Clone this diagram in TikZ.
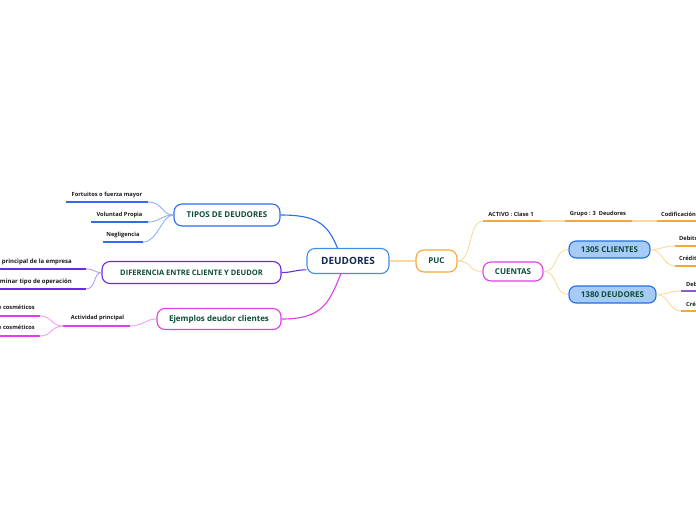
\documentclass[tikz,border=0pt]{standalone}
\usepackage{fontspec}
\setmainfont{Open Sans}
\definecolor{deublue}{HTML}{3D8FE0}
\definecolor{navy}{HTML}{142850}
\definecolor{txtgreen}{HTML}{0E4B3B}
\definecolor{labtxt}{HTML}{1A1A1A}
\definecolor{tblue}{HTML}{2F6BF0}
\definecolor{tlight}{HTML}{8CB0F8}
\definecolor{dpurple}{HTML}{6A2BE8}
\definecolor{plight}{HTML}{B79CF2}
\definecolor{emag}{HTML}{E13DEB}
\definecolor{mlight}{HTML}{F2A0F5}
\definecolor{orng}{HTML}{F7A737}
\definecolor{olight}{HTML}{FDD9A0}
\definecolor{bfill}{HTML}{A6CBF7}
\definecolor{bdraw}{HTML}{1F6FE0}
\definecolor{debpurple}{HTML}{8E5BC8}
\begin{document}
\begin{tikzpicture}[x=1pt,y=-1pt,
  box/.style={draw, rounded corners=8pt, line width=1.1pt, fill=white, inner sep=0pt,
    font=\fontsize{8}{9}\selectfont\bfseries, text=txtgreen},
  acct/.style={box, rounded corners=7pt, fill=bfill, draw=bdraw},
  lab/.style={inner sep=0pt, font=\fontsize{5.7}{6.2}\selectfont\bfseries, text=labtxt},
  uline/.style={line width=1.5pt},
  conn/.style={line width=0.9pt},
  mainconn/.style={line width=1.1pt}]
\useasboundingbox (0,0) rectangle (696,520);
\clip (0,0) rectangle (696,520);

% central node
\node[box, draw=deublue, minimum width=82, minimum height=25,
  font=\fontsize{10}{11}\selectfont\bfseries, text=navy] (deu) at (348,261) {DEUDORES};

% left main branches
\node[box, draw=tblue, minimum width=106, minimum height=22] (tipos) at (227,215) {TIPOS DE DEUDORES};
\node[box, draw=dpurple, minimum width=179, minimum height=22,
  font=\fontsize{7.5}{9}\selectfont\bfseries] (dif) at (191.5,272.5) {DIFERENCIA ENTRE CLIENTE Y DEUDOR};
\node[box, draw=emag, minimum width=124, minimum height=21] (ej) at (219,319) {Ejemplos deudor clientes};

\draw[mainconn, tblue] (deu.129) .. controls +(-10,-25) and +(35,0) .. (tipos.east);
\draw[mainconn, dpurple] (deu.192) .. controls +(-12,0) and +(12,0) .. (dif.east);
\draw[mainconn, emag] (deu.241) .. controls +(-12,30) and +(40,0) .. (ej.east);

% TIPOS children
\node[lab] (f1) at (107,195) {Fortuitos o fuerza mayor};
\node[lab] (f2) at (119.5,215) {Voluntad Propia};
\node[lab] (f3) at (123,235) {Negligencia};
\coordinate (f1a) at (66,202);  \coordinate (f1b) at (148,202);
\coordinate (f2a) at (91,222);  \coordinate (f2b) at (148,222);
\coordinate (f3a) at (103,242); \coordinate (f3b) at (143,242);
\draw[uline, tblue] (f1a) -- (f1b);
\draw[uline, tblue] (f2a) -- (f2b);
\draw[uline, tblue] (f3a) -- (f3b);
\draw[conn, tlight] (f1b) .. controls +(15,0) and +(-12,0) .. (tipos.west);
\draw[conn, tlight] (f2b) .. controls +(12,0) and +(-12,0) .. (tipos.west);
\draw[conn, tlight] (f3b) .. controls +(15,0) and +(-12,0) .. (tipos.west);

% DIFERENCIA children
\node[lab, anchor=east, font=\fontsize{6}{6.5}\selectfont\bfseries] (d1) at (72,262) {Actividad principal de la empresa};
\node[lab, anchor=east, font=\fontsize{6}{6.5}\selectfont\bfseries] (d2) at (72,282) {Determinar tipo de operación};
\coordinate (d1a) at (-5,269); \coordinate (d1b) at (86,269);
\coordinate (d2a) at (-5,289); \coordinate (d2b) at (86,289);
\draw[uline, dpurple] (d1a) -- (d1b);
\draw[uline, dpurple] (d2a) -- (d2b);
\draw[conn, plight] (d1b) .. controls +(10,0) and +(-8,0) .. (dif.west);
\draw[conn, plight] (d2b) .. controls +(10,0) and +(-8,0) .. (dif.west);

% Ejemplos children
\node[lab] (ap) at (97.5,318) {Actividad principal};
\coordinate (apa) at (63,326); \coordinate (apb) at (130,326);
\draw[uline, emag] (apa) -- (apb);
\draw[conn, mlight] (apb) .. controls +(14,0) and +(-12,0) .. (ej.west);
\node[lab, anchor=east] (c1) at (35,307) {Venta de cosméticos};
\node[lab, anchor=east] (c2) at (35,328) {Compra de cosméticos};
\coordinate (c1a) at (-5,316); \coordinate (c1b) at (40,316);
\coordinate (c2a) at (-5,336); \coordinate (c2b) at (40,336);
\draw[uline, emag] (c1a) -- (c1b);
\draw[uline, emag] (c2a) -- (c2b);
\draw[conn, mlight] (c1b) .. controls +(12,0) and +(-12,0) .. (apa);
\draw[conn, mlight] (c2b) .. controls +(12,0) and +(-12,0) .. (apa);

% right side
\node[box, draw=orng, minimum width=41, minimum height=22] (puc) at (436.5,261) {PUC};
\draw[mainconn, olight] (deu.east) -- (puc.west);

\node[box, draw=emag, minimum width=60, minimum height=19] (cue) at (513,271.5) {CUENTAS};
\node[lab] (act) at (511,214) {ACTIVO : Clase 1};
\coordinate (acta) at (483,221); \coordinate (actb) at (541,221);
\draw[uline, orng] (acta) -- (actb);
\draw[conn, olight] (puc.east) .. controls +(15,0) and +(-15,0) .. (acta);
\draw[conn, olight] (puc.east) .. controls +(15,0) and +(-15,0) .. (cue.west);

\node[lab] (grp) at (598,214) {Grupo : 3~~Deudores};
\coordinate (grpa) at (565,221); \coordinate (grpb) at (632,221);
\draw[uline, orng] (grpa) -- (grpb);
\draw[uline, olight] (actb) -- (grpa);

\node[lab, anchor=west] (cod) at (661,214) {Codificación};
\coordinate (coda) at (657,221); \coordinate (codb) at (700,221);
\draw[uline, orng] (coda) -- (codb);
\draw[uline, olight] (grpb) -- (coda);

\node[acct, minimum width=81, minimum height=17] (c1305) at (609.5,249.5) {1305 CLIENTES};
\node[acct, minimum width=87, minimum height=17] (c1380) at (612.5,294.5) {1380 DEUDORES};
\draw[conn, olight] (cue.east) .. controls +(15,0) and +(-15,0) .. (c1305.west);
\draw[conn, olight] (cue.east) .. controls +(15,0) and +(-15,0) .. (c1380.west);

\node[lab, anchor=west] (db1) at (679,238.5) {Debito};
\node[lab, anchor=west] (cr1) at (679,258.5) {Crédito};
\coordinate (db1a) at (675,246); \coordinate (db1b) at (700,246);
\coordinate (cr1a) at (675,266); \coordinate (cr1b) at (700,266);
\draw[uline, orng] (db1a) -- (db1b);
\draw[uline, orng] (cr1a) -- (cr1b);
\draw[conn, olight] (c1305.east) .. controls +(12,0) and +(-12,0) .. (db1a);
\draw[conn, olight] (c1305.east) .. controls +(12,0) and +(-12,0) .. (cr1a);

\node[lab, anchor=west] (db2) at (686,284) {Debito};
\node[lab, anchor=west] (cr2) at (686,304) {Crédito};
\coordinate (db2a) at (681,291); \coordinate (db2b) at (700,291);
\coordinate (cr2a) at (681,311); \coordinate (cr2b) at (700,311);
\draw[uline, debpurple] (db2a) -- (db2b);
\draw[uline, orng] (cr2a) -- (cr2b);
\draw[conn, olight] (c1380.east) .. controls +(12,0) and +(-12,0) .. (db2a);
\draw[conn, olight] (c1380.east) .. controls +(12,0) and +(-12,0) .. (cr2a);
\end{tikzpicture}
\end{document}
